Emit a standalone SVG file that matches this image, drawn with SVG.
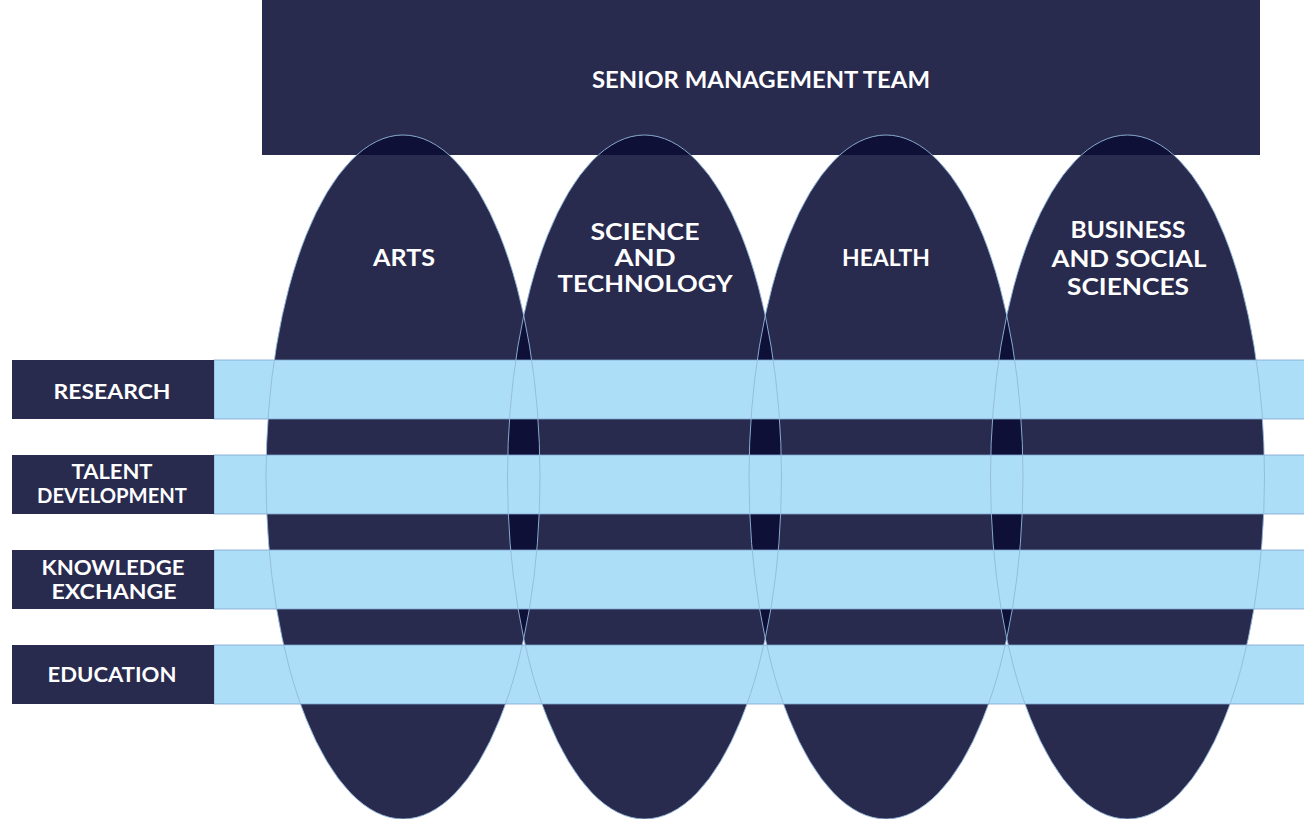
<svg xmlns="http://www.w3.org/2000/svg" width="1304" height="819" viewBox="0 0 1304 819">
<style>
.navy{fill:#282a4e}
.oval{fill:#0a0d36;fill-opacity:0.88}
.edge{fill:none;stroke:#93b9dc;stroke-width:0.9}
.bar{fill:#acdef8;stroke:#7fa3cc;stroke-width:0.8}
.t{font-family:Lato,"Liberation Sans",sans-serif;font-weight:700;fill:#ffffff;text-anchor:middle;font-size:23px}
.l{font-size:20px}
</style>
<rect width="1304" height="819" fill="#ffffff"/>
<g id="smt">
<rect class="navy" x="262" y="0" width="998" height="155"/>
</g>
<g id="faculties">
<ellipse id="arts" class="oval" cx="403" cy="477" rx="137" ry="342"/>
<ellipse id="science" class="oval" cx="644.5" cy="477" rx="137" ry="342"/>
<ellipse id="health" class="oval" cx="886" cy="477" rx="137" ry="342"/>
<ellipse id="business" class="oval" cx="1127.5" cy="477" rx="137" ry="342"/>
</g>
<g id="themes">
<g id="research"><rect class="bar" x="214" y="360" width="1092" height="59"/><rect class="navy" x="12" y="360" width="202" height="59"/></g>
<g id="talent"><rect class="bar" x="214" y="455" width="1092" height="59"/><rect class="navy" x="12" y="455" width="202" height="59"/></g>
<g id="knowledge"><rect class="bar" x="214" y="550" width="1092" height="59"/><rect class="navy" x="12" y="550" width="202" height="59"/></g>
<g id="education"><rect class="bar" x="214" y="645" width="1092" height="59"/><rect class="navy" x="12" y="645" width="202" height="59"/></g>
</g>
<g id="outlines">
<ellipse class="edge" cx="403" cy="477" rx="137" ry="342"/>
<ellipse class="edge" cx="644.5" cy="477" rx="137" ry="342"/>
<ellipse class="edge" cx="886" cy="477" rx="137" ry="342"/>
<ellipse class="edge" cx="1127.5" cy="477" rx="137" ry="342"/>
</g>
<g id="labels">
<text class="t" x="761" y="88" textLength="338" lengthAdjust="spacingAndGlyphs">SENIOR MANAGEMENT TEAM</text>
<text class="t" x="404" y="266" textLength="62" lengthAdjust="spacingAndGlyphs">ARTS</text>
<text class="t" x="645" y="240" textLength="109" lengthAdjust="spacingAndGlyphs">SCIENCE</text>
<text class="t" x="645" y="266" textLength="61" lengthAdjust="spacingAndGlyphs">AND</text>
<text class="t" x="645" y="292" textLength="175" lengthAdjust="spacingAndGlyphs">TECHNOLOGY</text>
<text class="t" x="886" y="266" textLength="88" lengthAdjust="spacingAndGlyphs">HEALTH</text>
<text class="t" x="1128" y="238" textLength="115" lengthAdjust="spacingAndGlyphs">BUSINESS</text>
<text class="t" x="1129" y="267" textLength="155" lengthAdjust="spacingAndGlyphs">AND SOCIAL</text>
<text class="t" x="1128" y="295" textLength="122" lengthAdjust="spacingAndGlyphs">SCIENCES</text>
<text class="t l" x="112" y="399" textLength="117" lengthAdjust="spacingAndGlyphs">RESEARCH</text>
<text class="t l" x="112" y="479" textLength="81" lengthAdjust="spacingAndGlyphs">TALENT</text>
<text class="t l" x="112" y="503" textLength="150" lengthAdjust="spacingAndGlyphs">DEVELOPMENT</text>
<text class="t l" x="113" y="575" textLength="143" lengthAdjust="spacingAndGlyphs">KNOWLEDGE</text>
<text class="t l" x="114" y="599" textLength="125" lengthAdjust="spacingAndGlyphs">EXCHANGE</text>
<text class="t l" x="112" y="682" textLength="129" lengthAdjust="spacingAndGlyphs">EDUCATION</text>
</g>
</svg>
